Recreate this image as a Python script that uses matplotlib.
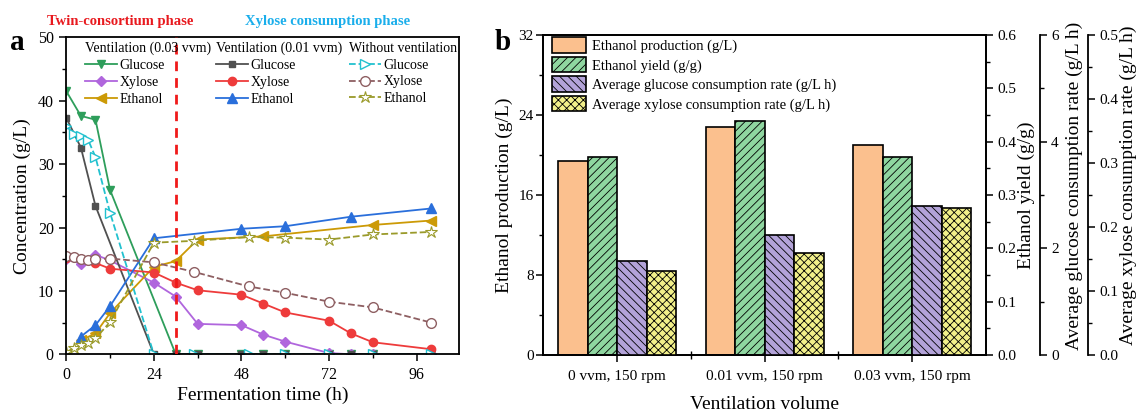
import matplotlib
matplotlib.use('Agg')
import matplotlib.pyplot as plt
from matplotlib.ticker import MultipleLocator, FormatStrFormatter

plt.rcParams['font.family'] = ['Liberation Serif', 'DejaVu Serif']
plt.rcParams['hatch.linewidth'] = 0.6

# ---- panel a data (fermentation time in h, concentration in g/L) ----
t_a = [0, 4, 8, 12, 30, 36, 48, 54, 60, 72, 78, 84, 100]
glc_003 = [41.5, 37.6, 37.0, 25.9, 0, 0, 0, 0, 0, 0, 0, 0, 0]
t_xyl = [0, 4, 8, 12, 24, 30, 36, 48, 54, 60, 72, 78, 84, 100]
xyl_003 = [15.0, 14.3, 15.7, 14.8, 11.3, 9.1, 4.8, 4.6, 3.1, 2.0, 0.2, 0, 0, 0]
t_eth003 = [4, 8, 12, 24, 30, 36, 54, 84, 100]
eth_003 = [2.2, 3.3, 6.5, 13.8, 14.7, 18.1, 18.6, 20.4, 21.1]

t_glc001 = [0, 4, 8, 24, 30, 36, 48, 54, 60, 72, 78, 84, 100]
glc_001 = [37.3, 32.6, 23.4, 0, 0, 0, 0, 0, 0, 0, 0, 0, 0]
xyl_001 = [15.2, 15.0, 14.4, 13.5, 12.9, 11.3, 10.1, 9.4, 8.0, 6.6, 5.3, 3.3, 1.9, 0.8]
t_eth001 = [4, 8, 12, 24, 48, 60, 78, 100]
eth_001 = [2.8, 4.6, 7.6, 18.3, 19.8, 20.2, 21.7, 23.0]

t_nv = [0, 2, 4, 6, 8, 12, 24, 35, 50, 60, 72, 84, 100]
glc_nv = [36.0, 34.8, 34.5, 33.8, 31.1, 22.3, 0, 0, 0, 0, 0, 0, 0]
xyl_nv = [15.5, 15.4, 15.0, 14.9, 15.0, 15.1, 14.5, 13.0, 10.7, 9.7, 8.3, 7.4, 5.0]
eth_nv = [0.3, 1.0, 1.4, 1.8, 2.5, 5.1, 17.6, 17.9, 18.5, 18.4, 18.1, 18.9, 19.3]

phase_switch = 30

# ---- panel b data ----
conditions = ['0 vvm, 150 rpm', '0.01 vvm, 150 rpm', '0.03 vvm, 150 rpm']
eth_prod = [19.4, 22.8, 21.0]
eth_yield = [0.371, 0.438, 0.371]
glc_rate = [1.76, 2.25, 2.79]
xyl_rate = [0.131, 0.160, 0.230]

W, H = 1142, 413
fig = plt.figure(figsize=(W / 100, H / 100), dpi=100)

def px_axes(l, r, t, b):
    return fig.add_axes([l / W, 1 - b / H, (r - l) / W, (b - t) / H])

# ================= panel a =================
axa = px_axes(66.3, 459.3, 37.3, 354.3)
lw = 1.3
ms = 6
c_green, c_purple, c_gold = '#2E9E5B', '#B066DD', '#CC9A06'
c_gray, c_red, c_blue = '#505050', '#EE3B3B', '#2A6FDB'
c_cyan, c_brown, c_olive = '#22C1CF', '#8E5F62', '#9A9A2A'

l1, = axa.plot(t_a, glc_003, color=c_green, marker='v', ms=ms, lw=lw)
l2, = axa.plot(t_xyl, xyl_003, color=c_purple, marker='D', ms=ms - 1, lw=lw)
l3, = axa.plot(t_eth003, eth_003, color=c_gold, marker='<', ms=ms + 1, lw=lw)
l4, = axa.plot(t_glc001, glc_001, color=c_gray, marker='s', ms=ms - 1, lw=lw)
l5, = axa.plot(t_xyl, xyl_001, color=c_red, marker='o', ms=ms, lw=lw)
l6, = axa.plot(t_eth001, eth_001, color=c_blue, marker='^', ms=ms + 1, lw=lw)
l7, = axa.plot(t_nv, glc_nv, color=c_cyan, marker='>', ms=ms + 1, lw=lw, ls='--', mfc='white')
l8, = axa.plot(t_nv, xyl_nv, color=c_brown, marker='o', ms=ms + 1, lw=lw, ls='--', mfc='white')
l9, = axa.plot(t_nv, eth_nv, color=c_olive, marker='*', ms=ms + 3, lw=lw, ls='--',
               mfc='white', mew=0.8)

axa.axvline(phase_switch, color='#F01A1A', lw=2, ls=(0, (3.5, 2.5)), zorder=5)

axa.set_xlim(0, 107.7)
axa.set_ylim(0, 50)
axa.xaxis.set_major_locator(MultipleLocator(24))
axa.xaxis.set_minor_locator(MultipleLocator(12))
axa.yaxis.set_major_locator(MultipleLocator(10))
axa.yaxis.set_minor_locator(MultipleLocator(5))
axa.tick_params(which='major', direction='out', length=5, width=1.1, labelsize=11.5, pad=4)
axa.tick_params(which='minor', direction='out', length=3, width=1.0)
for s in axa.spines.values():
    s.set_linewidth(1.3)
axa.set_xlabel('Fermentation time (h)', fontsize=14, labelpad=3)
axa.set_ylabel('Concentration (g/L)', fontsize=14, labelpad=5)

leg_kw = dict(frameon=False, fontsize=10, title_fontsize=10, alignment='left',
              handlelength=2.3, handletextpad=0.2, labelspacing=0.28,
              borderpad=0.2, borderaxespad=0.0, loc='upper left')
names = ['Glucose', 'Xylose', 'Ethanol']
g1 = axa.legend([l1, l2, l3], names, title='Ventilation (0.03 vvm)',
                bbox_to_anchor=(0.04, 0.995), **leg_kw)
axa.add_artist(g1)
g2 = axa.legend([l4, l5, l6], names, title='Ventilation (0.01 vvm)',
                bbox_to_anchor=(0.373, 0.995), **leg_kw)
axa.add_artist(g2)
g3 = axa.legend([l7, l8, l9], names, title='Without ventilation',
                bbox_to_anchor=(0.712, 0.995), **leg_kw)
for g in (g1, g2, g3):
    g.set_zorder(6)

fig.text(120 / W, 1 - 21 / H, 'Twin-consortium phase', color='#E8191E',
         fontsize=10.5, fontweight='bold', ha='center', va='center')
fig.text(328 / W, 1 - 21 / H, 'Xylose consumption phase', color='#1AAEEB',
         fontsize=10.5, fontweight='bold', ha='center', va='center')
fig.text(17 / W, 1 - 42 / H, 'a', fontsize=21, fontweight='bold', ha='center', va='center')
fig.text(503 / W, 1 - 42 / H, 'b', fontsize=21, fontweight='bold', ha='center', va='center')

# ================= panel b =================
axb = px_axes(543.3, 986, 35, 355)
ax2 = axb.twinx()
ax3 = axb.twinx()
ax4 = axb.twinx()
ax3.spines['right'].set_position(('axes', (1040 - 543.3) / 442.7))
ax4.spines['right'].set_position(('axes', (1088 - 543.3) / 442.7))

x = [1, 2, 3]
bw = 0.2
ec = dict(edgecolor='black', linewidth=1.2)
b1 = axb.bar([i - 1.5 * bw for i in x], eth_prod, bw, color='#FBC08E', **ec)
b2 = ax2.bar([i - 0.5 * bw for i in x], eth_yield, bw, color='#8FD6A0', hatch='////', **ec)
b3 = ax3.bar([i + 0.5 * bw for i in x], glc_rate, bw, color='#B3A3D9', hatch='\\\\\\\\', **ec)
b4 = ax4.bar([i + 1.5 * bw for i in x], xyl_rate, bw, color='#F2F08A', hatch='xxxx', **ec)

axb.set_xlim(0.5, 3.5)
axb.set_ylim(0, 32)
ax2.set_ylim(0, 0.6)
ax3.set_ylim(0, 6)
ax4.set_ylim(0, 0.5)
axb.set_xticks(x)
axb.set_xticklabels(conditions)
axb.set_xticks([1.5, 2.5], minor=True)
axb.yaxis.set_major_locator(MultipleLocator(8))
axb.yaxis.set_minor_locator(MultipleLocator(4))
ax2.yaxis.set_major_locator(MultipleLocator(0.1))
ax2.yaxis.set_minor_locator(MultipleLocator(0.05))
ax3.yaxis.set_major_locator(MultipleLocator(2))
ax3.yaxis.set_minor_locator(MultipleLocator(1))
ax4.yaxis.set_major_locator(MultipleLocator(0.1))
ax4.yaxis.set_minor_locator(MultipleLocator(0.05))
ax2.yaxis.set_major_formatter(FormatStrFormatter('%.1f'))
ax4.yaxis.set_major_formatter(FormatStrFormatter('%.1f'))

for a in (axb, ax2, ax3, ax4):
    a.tick_params(which='major', direction='out', length=5, width=1.1, labelsize=11, pad=3)
    a.tick_params(which='minor', direction='out', length=3, width=1.0)
    for s in a.spines.values():
        s.set_linewidth(1.3)
axb.tick_params(axis='y', which='major', pad=2)
axb.tick_params(axis='x', which='major', pad=6)
axb.tick_params(axis='x', which='minor', direction='inout', length=6)
for a in (ax3, ax4):
    a.spines['top'].set_visible(False)
    a.spines['left'].set_visible(False)
    a.spines['bottom'].set_visible(False)

axb.set_xlabel('Ventilation volume', fontsize=14, labelpad=9)
axb.set_ylabel('Ethanol production (g/L)', fontsize=14)
axb.yaxis.set_label_coords(-0.068, 0.5)
ax2.set_ylabel('Ethanol yield (g/g)', fontsize=14)
ax2.yaxis.set_label_coords((1018 - 543.3) / 442.7, 0.5)
ax3.set_ylabel('Average glucose consumption rate (g/L h)', fontsize=14)
ax3.yaxis.set_label_coords((1066 - 543.3) / 442.7, 0.53)
ax4.set_ylabel('Average xylose consumption rate (g/L h)', fontsize=14)
ax4.yaxis.set_label_coords((1120 - 543.3) / 442.7, 0.53)

ax4.legend([b1, b2, b3, b4],
           ['Ethanol production (g/L)', 'Ethanol yield (g/g)',
            'Average glucose consumption rate (g/L h)',
            'Average xylose consumption rate (g/L h)'],
           loc='upper left', bbox_to_anchor=(0.015, 1.0), frameon=False,
           fontsize=10.5, handlelength=2.3, handleheight=1.25,
           handletextpad=0.4, labelspacing=0.26, borderpad=0.15, borderaxespad=0.0)

fig.savefig('out.png', dpi=100)
